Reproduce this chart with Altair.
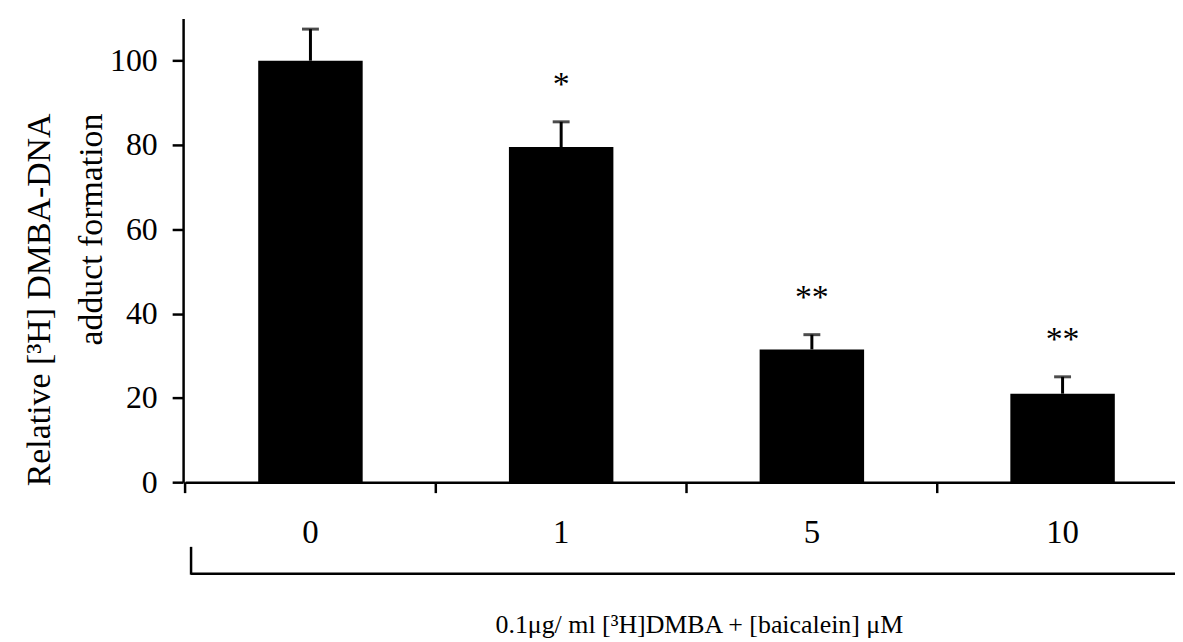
import altair as alt
import pandas as pd

categories = ["0", "1", "5", "10"]
means = [100, 79.5, 31.5, 21]
errors = [7.5, 6, 3.5, 4]
stars = ["", "*", "**", "**"]
y_ticks = [0, 20, 40, 60, 80, 100]
y_title = ["Relative [³H] DMBA-DNA", "adduct formation"]
x_title = "0.1μg/ ml [³H]DMBA + [baicalein] μM"

FONT = "Liberation Serif"

df = pd.DataFrame({
    "cat": categories,
    "mean": means,
    "upper": [m + e for m, e in zip(means, errors)],
    "star": stars,
})
one = pd.DataFrame({"k": [0]})

xscale = alt.Scale(domain=categories, range=[2, 1010], paddingInner=0, paddingOuter=0)
xaxis = alt.Axis(title=None, labelAngle=0, ticks=False, labelPadding=35,
                 labelFontSize=33, labelFont=FONT, labelColor="black",
                 domainColor="black", domainWidth=2.5)
x = alt.X("cat:N", scale=xscale, sort=categories, axis=xaxis)
x_edge = alt.X("cat:N", scale=xscale, sort=categories, axis=xaxis, bandPosition=0)

yscale = alt.Scale(domain=[0, 110], nice=False)
yaxis = alt.Axis(values=y_ticks, grid=False, tickSize=11, tickWidth=2.5,
                 tickColor="black", domainColor="black", domainWidth=2.5,
                 labelFont=FONT, labelFontSize=32, labelColor="black", labelPadding=15,
                 title=y_title, titleFont=FONT, titleFontSize=34, titleFontWeight="normal",
                 titleColor="black", titleAngle=270, titleAlign="right",
                 titleBaseline="alphabetic", titleX=-134, titleY=95, titleLineHeight=52)
y = alt.Y("mean:Q", scale=yscale, axis=yaxis)

base = alt.Chart(df)
bars = base.mark_bar(color="black", size=105).encode(x=x, y=y)
err = base.mark_rule(color="black", strokeWidth=3).encode(
    x=x, y=alt.Y("mean:Q", scale=yscale, axis=yaxis), y2="upper:Q")
caps = base.mark_tick(color="black", orient="horizontal", size=17, thickness=3).encode(
    x=x, y=alt.Y("upper:Q", scale=yscale, axis=yaxis))
star_txt = base.mark_text(font=FONT, fontSize=34, baseline="alphabetic", dy=-27, color="black").encode(
    x=x, y=alt.Y("upper:Q", scale=yscale, axis=yaxis), text="star:N")
xticks = base.mark_rule(color="black", strokeWidth=2.5).encode(
    x=x_edge, y=alt.value(466), y2=alt.value(477))

bracket_v = alt.Chart(one).mark_rule(color="black", strokeWidth=2.5).encode(
    x=alt.value(8), y=alt.value(531), y2=alt.value(559))
bracket_h = alt.Chart(one).mark_rule(color="black", strokeWidth=2.5).encode(
    x=alt.value(8), x2=alt.value(1010), y=alt.value(558))
label = alt.Chart(one).mark_text(text=x_title, align="left", baseline="alphabetic",
                                 font=FONT, fontSize=26, color="black").encode(
    x=alt.value(314), y=alt.value(618))

chart = alt.layer(bars, err, caps, star_txt, xticks, bracket_v, bracket_h, label).properties(
    width=997, height=466,
    autosize=alt.AutoSizeParams(type="none"),
    padding={"left": 176, "top": 9, "right": 0, "bottom": 156},
    background="white",
).configure_view(stroke=None)

chart.save("out.html", embed_options={"renderer": "svg", "actions": False})
